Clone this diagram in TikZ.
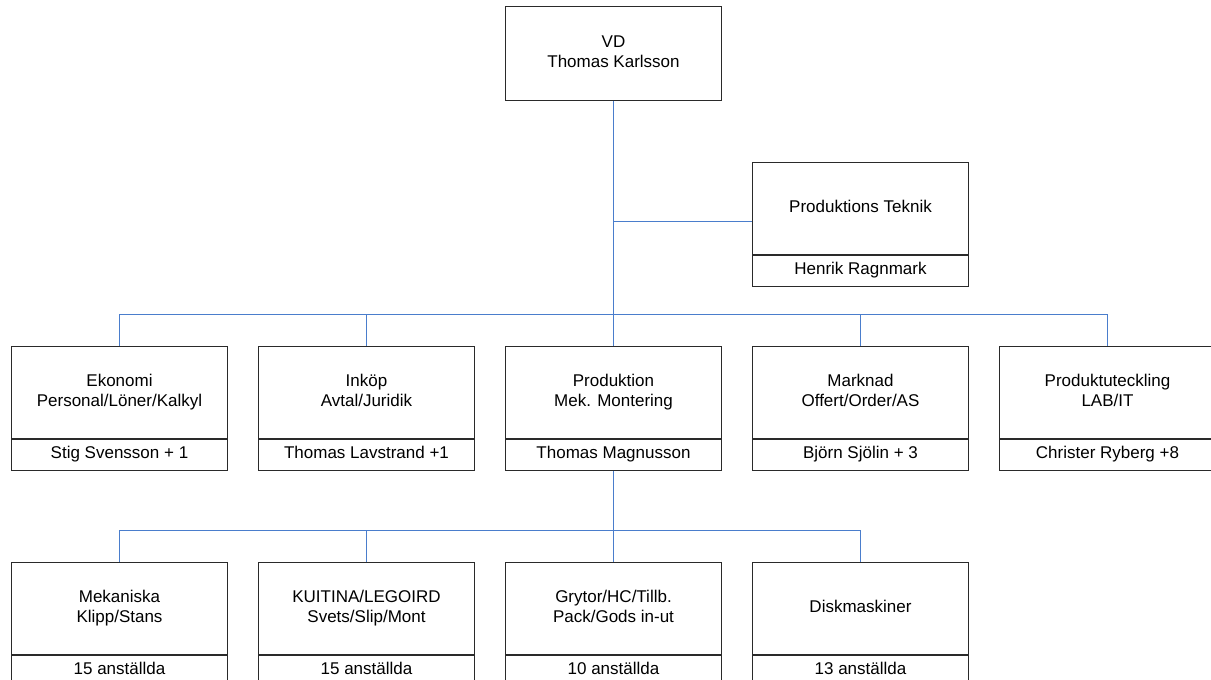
\documentclass[tikz,border=0pt]{standalone}
\usepackage{fontspec}
\setmainfont{Liberation Sans}
\usetikzlibrary{calc}
\definecolor{boxline}{HTML}{2A2A2A}
\definecolor{linkblue}{HTML}{4A7DCC}
\newcommand{\tl}[1]{\strut#1}
\begin{document}
\begin{tikzpicture}[x=1pt,y=-1pt,
  unitbox/.style={draw=boxline, line width=1.1pt, minimum width=216pt,
    minimum height=92pt, inner sep=0pt, align=center, anchor=north,
    font=\fontsize{17}{20}\selectfont},
  namebox/.style={draw=boxline, line width=1.1pt, minimum width=216pt,
    minimum height=31pt, inner sep=0pt, anchor=north,
    font=\fontsize{17}{20}\selectfont},
  link/.style={draw=linkblue, line width=1.05pt}]
\useasboundingbox (0,0) rectangle (1211,680);
\clip (0,0) rectangle (1211,680);

% top management
\node[unitbox, minimum height=94pt] (vd) at (613.5,5.5) {\tl{VD}\\\tl{Thomas Karlsson}};
\node[unitbox] (pt) at (860.5,161.5) {\tl{Produktions Teknik}};
\node[namebox] (ptn) at (pt.south) {\tl{Henrik Ragnmark}};

% departments
\node[unitbox] (eko) at (119.5,345.5) {\tl{Ekonomi}\\\tl{Personal/Löner/Kalkyl}};
\node[namebox] (ekon) at (eko.south) {\tl{Stig Svensson + 1}};
\node[unitbox] (ink) at (366.5,345.5) {\tl{Inköp}\\\tl{Avtal/Juridik}};
\node[namebox] (inkn) at (ink.south) {\tl{Thomas Lavstrand +1}};
\node[unitbox] (prod) at (613.5,345.5) {\tl{Produktion}\\\tl{Mek. Montering}};
\node[namebox] (prodn) at (prod.south) {\tl{Thomas Magnusson}};
\node[unitbox] (mark) at (860.5,345.5) {\tl{Marknad}\\\tl{Offert/Order/AS}};
\node[namebox] (markn) at (mark.south) {\tl{Björn Sjölin + 3}};
\node[unitbox] (plab) at (1107.5,345.5) {\tl{Produktuteckling}\\\tl{LAB/IT}};
\node[namebox] (plabn) at (plab.south) {\tl{Christer Ryberg +8}};

% production groups
\node[unitbox] (mek) at (119.5,561.5) {\tl{Mekaniska}\\\tl{Klipp/Stans}};
\node[namebox] (mekn) at (mek.south) {\tl{15 anställda}};
\node[unitbox] (kui) at (366.5,561.5) {\tl{KUITINA/LEGOIRD}\\\tl{Svets/Slip/Mont}};
\node[namebox] (kuin) at (kui.south) {\tl{15 anställda}};
\node[unitbox] (gry) at (613.5,561.5) {\tl{Grytor/HC/Tillb.}\\\tl{Pack/Gods in-ut}};
\node[namebox] (gryn) at (gry.south) {\tl{10 anställda}};
\node[unitbox] (disk) at (860.5,561.5) {\tl{Diskmaskiner}};
\node[namebox] (diskn) at (disk.south) {\tl{13 anställda}};

% connectors
\coordinate (bus1) at (613.5,314.5);
\coordinate (bus2) at (613.5,530.5);
\coordinate (ptjoin) at (pt.west |- 0,221.5);

\draw[link] (vd.south) -- (prod.north);
\draw[link] (ptjoin) -- (vd.south |- ptjoin);
\draw[link] (eko.north) |- (plab.north |- bus1) -- (plab.north);
\foreach \n in {ink,mark} \draw[link] (\n.north) -- (\n.north |- bus1);

\draw[link] (prodn.south) -- (gry.north);
\draw[link] (mek.north) |- (disk.north |- bus2) -- (disk.north);
\draw[link] (kui.north) -- (kui.north |- bus2);
\end{tikzpicture}
\end{document}
